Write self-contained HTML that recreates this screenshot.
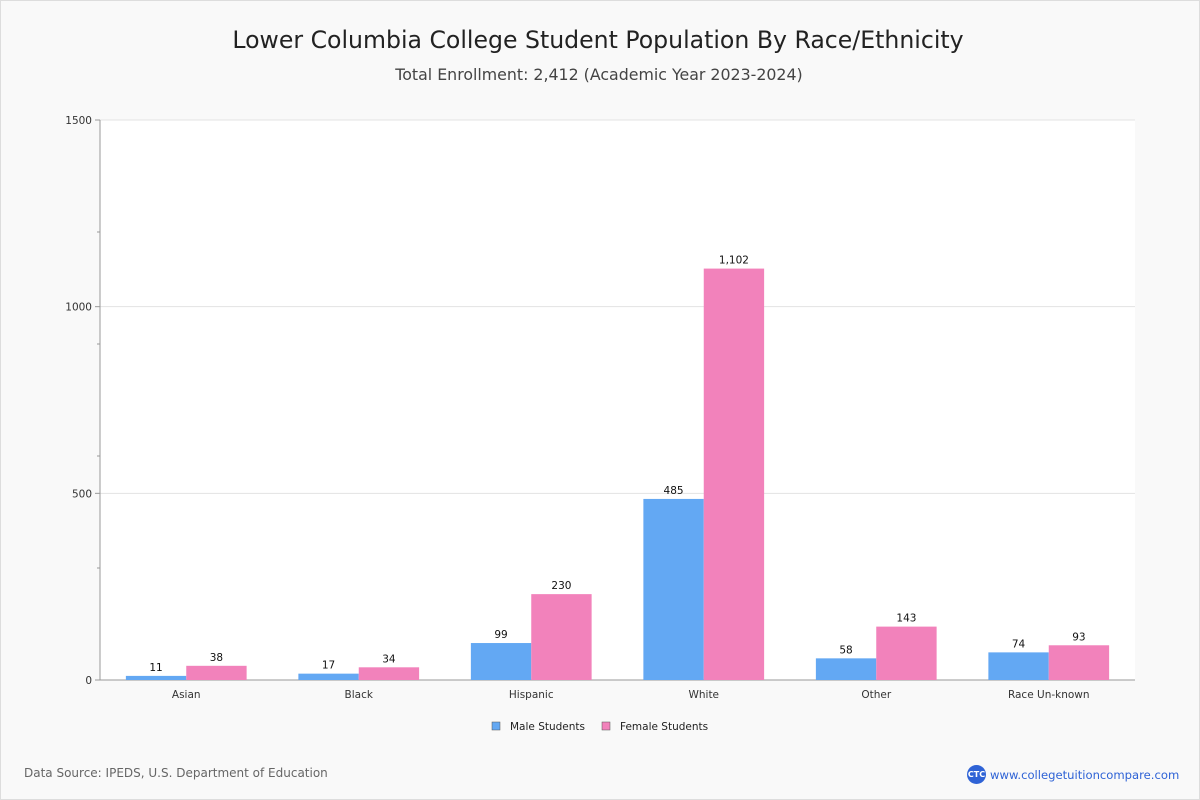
<!DOCTYPE html>
<html><head><meta charset="utf-8"><style>
body{margin:0;background:#fff;}
#wrap{position:relative;width:1198px;height:798px;border:1px solid #ddd;background:#f9f9f9;font-family:"DejaVu Sans","Liberation Sans",sans-serif;overflow:hidden;}
.t{position:absolute;width:100%;text-align:center;}
</style></head><body>
<div id="wrap">
<div class="t" style="top:25px;left:-2px;font-size:23.6px;color:#222;">Lower Columbia College Student Population By Race/Ethnicity</div>
<div class="t" style="top:64px;left:-1px;font-size:15.8px;color:#444;">Total Enrollment: 2,412 (Academic Year 2023-2024)</div>
<svg id="chart" width="1198" height="798" style="position:absolute;left:0;top:0;"></svg>
<div style="position:absolute;left:23px;top:765px;font-size:12px;color:#666;">Data Source: IPEDS, U.S. Department of Education</div>
<div style="position:absolute;left:966px;top:764px;display:flex;align-items:center;">
<div style="width:19px;height:19px;border-radius:50%;background:#2f63d6;color:#fff;font-size:8px;font-weight:bold;display:flex;align-items:center;justify-content:center;">CTC</div>
<span style="margin-left:4px;font-size:11.6px;color:#2f63d6;">www.collegetuitioncompare.com</span></div>
</div>
<script>
const categories=["Asian","Black","Hispanic","White","Other","Race Un-known"];
const maleValues=[11,17,99,485,58,74];
const femaleValues=[38,34,230,1102,143,93];
const yTicks=[0,500,1000,1500];
const yMinor=[300,600,900,1200];
const NS="http://www.w3.org/2000/svg";
const svg=document.getElementById('chart');
const L=99,R=1134,T=119,B=679,yMax=1500;
const y=v=>B-(v/yMax)*(B-T);
const bw=(R-L)/categories.length;
const x=i=>L+bw*i+bw/2;
function mk(tag,a){const e=document.createElementNS(NS,tag);for(const k in a)e.setAttribute(k,a[k]);svg.appendChild(e);return e;}
const bg=mk('rect',{x:L,y:T,width:R-L,height:B-T,fill:'#fff'});


yTicks.forEach(v=>{
 const g=mk('line',{x1:L,x2:R,y1:y(v),y2:y(v),stroke:'#e3e3e3'});
 
 
 mk('line',{x1:L-5,x2:L,y1:y(v),y2:y(v),stroke:'#999'});
 const t=mk('text',{x:L-8,y:y(v)+4,'text-anchor':'end','font-size':10.5,fill:'#333'});
 t.textContent=v;
 
 
});
yMinor.forEach(v=>{mk('line',{x1:L-3,x2:L,y1:y(v),y2:y(v),stroke:'#999'});});
mk('line',{x1:L,x2:L,y1:T,y2:B,stroke:'#999'});
mk('line',{x1:L,x2:R,y1:B,y2:B,stroke:'#999'});
const w=bw*0.35;
function bar(i,v,off,color,name){
 const r=mk('rect',{x:x(i)+off,y:y(v),width:w,height:B-y(v),fill:color});
 
 
 const t=mk('text',{x:x(i)+off+w/2,y:y(v)-5,'text-anchor':'middle','font-size':10.5,fill:'#111'});
 t.textContent=v.toLocaleString('en-US');
 
 
}
categories.forEach((c,i)=>{
 bar(i,maleValues[i],-w,'#63a8f3','bar-male');
 bar(i,femaleValues[i],0,'#f282bb','bar-female');
 const t=mk('text',{x:x(i),y:B+18,'text-anchor':'middle','font-size':10.5,fill:'#333'});
 t.textContent=c;
 
 
});
[["Male Students","#63a8f3",491],["Female Students","#f282bb",601]].forEach(([n,c,lx])=>{
 const r=mk('rect',{x:lx,y:721,width:8,height:8,fill:c,stroke:'#555','stroke-width':0.5});
 
 
 const t=mk('text',{x:lx+18,y:729,'font-size':10.5,fill:'#222'});
 t.textContent=n;
 
 
});
</script>
</body></html>
